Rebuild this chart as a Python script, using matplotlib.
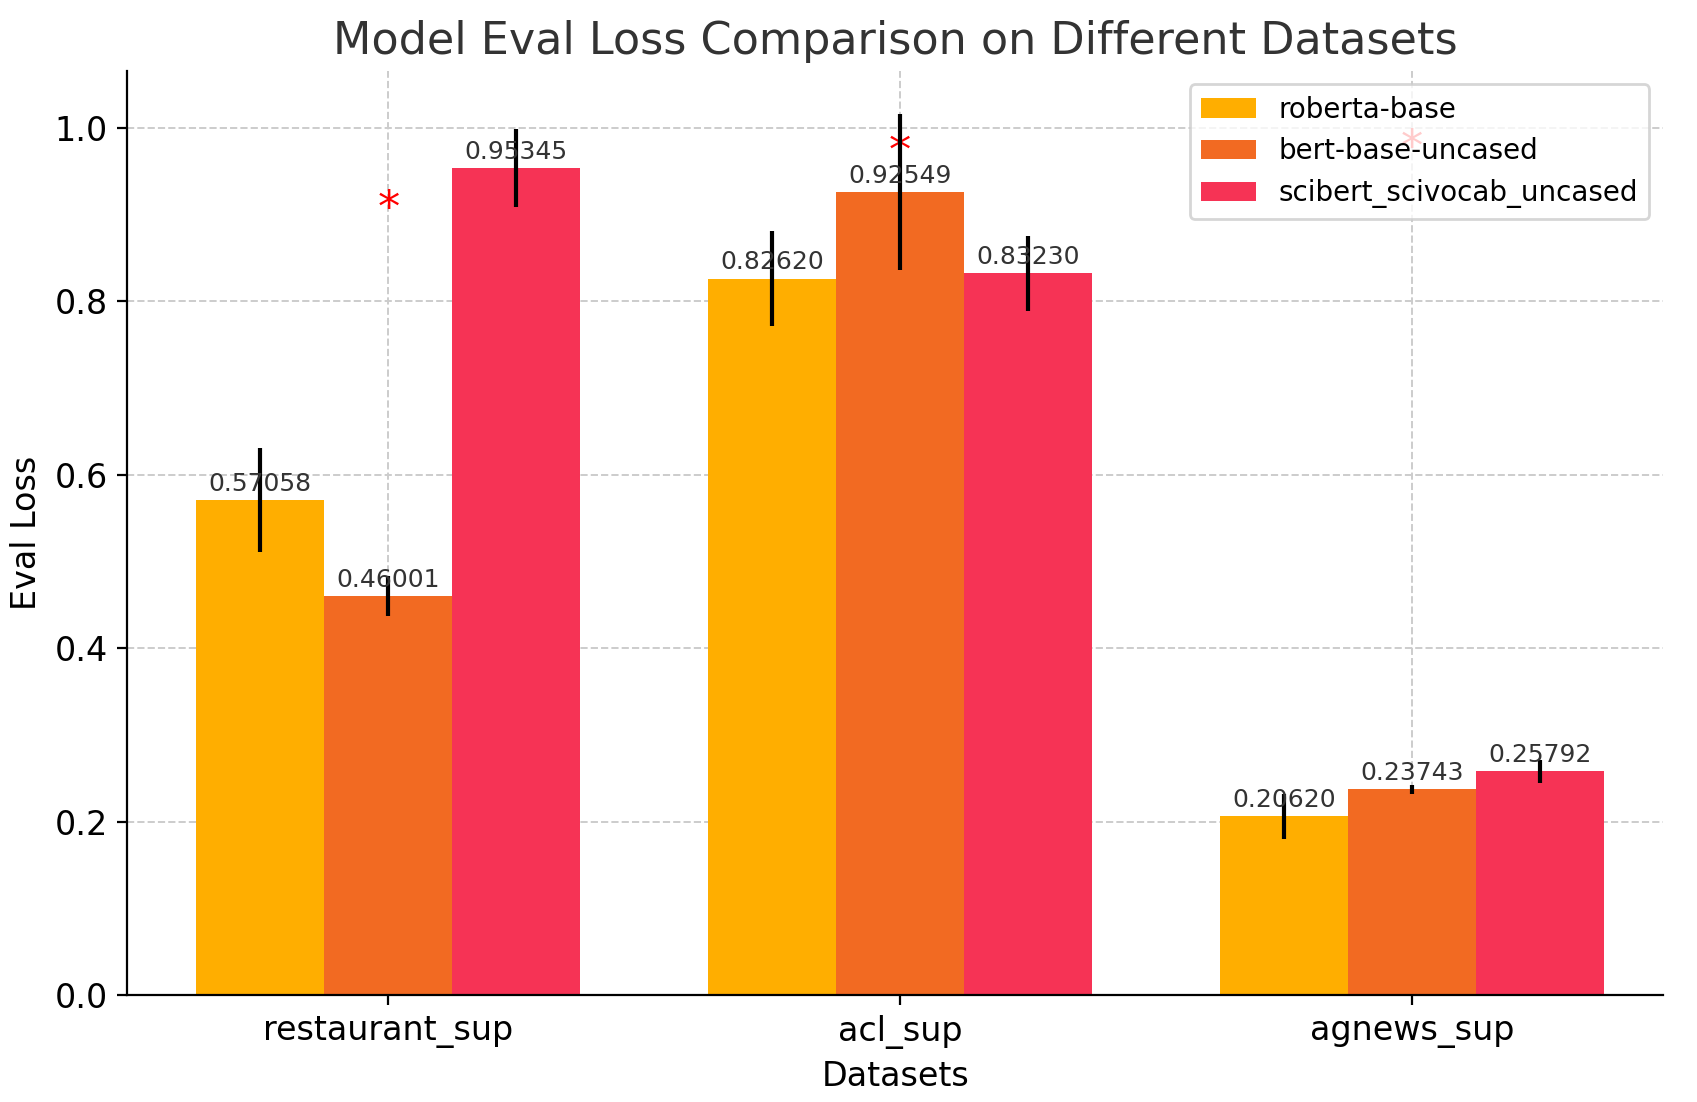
import numpy as np
import matplotlib.pyplot as plt

datasets = ['restaurant_sup', 'acl_sup', 'agnews_sup']
models = ['roberta-base', 'bert-base-uncased', 'scibert_scivocab_uncased']
losses = {
    'roberta-base': [0.57058, 0.82620, 0.20620],
    'bert-base-uncased': [0.46001, 0.92549, 0.23743],
    'scibert_scivocab_uncased': [0.95345, 0.83230, 0.25792],
}
errors = {
    'roberta-base': [0.060, 0.055, 0.026],
    'bert-base-uncased': [0.023, 0.090, 0.005],
    'scibert_scivocab_uncased': [0.045, 0.043, 0.013],
}
star_y = [0.906, 0.971, 0.976]
colors = ['#FFAE00', '#F26A22', '#F63355']

fig, ax = plt.subplots(figsize=(8.485, 5.51), dpi=200)
x = np.arange(len(datasets))
w = 0.25
for i, m in enumerate(models):
    pos = x + (i - 1) * w
    ax.bar(pos, losses[m], w, color=colors[i], label=m, zorder=2)
    ax.errorbar(pos, losses[m], yerr=errors[m], fmt='none', ecolor='black',
                elinewidth=1.5, zorder=3)
    for p, v in zip(pos, losses[m]):
        ax.text(p, v + 0.005, '%.5f' % v, ha='center', va='bottom',
                fontsize=9, color='#333333', zorder=4)
for xi, yi in zip(x, star_y):
    ax.text(xi, yi, '*', ha='center', va='center', color='red',
            fontsize=16, zorder=1)

ax.set_xticks(x)
ax.set_xticklabels(datasets, fontsize=12)
ax.tick_params(axis='y', labelsize=12)
ax.set_xlabel('Datasets', fontsize=12)
ax.set_ylabel('Eval Loss', fontsize=12)
ax.set_title('Model Eval Loss Comparison on Different Datasets', fontsize=16,
             color='#333333')
ax.grid(True, linestyle='--', color='#cccccc', linewidth=0.7, zorder=0)
ax.set_axisbelow(True)
ax.spines['top'].set_visible(False)
ax.spines['right'].set_visible(False)
ax.set_xlim(-0.51, 2.49)
ax.set_ylim(0, 1.066)
leg = ax.legend(fontsize=10, loc='upper right')
leg.set_zorder(10)
plt.subplots_adjust(left=0.075, right=0.98, top=0.936, bottom=0.097)
plt.savefig('out.png')
